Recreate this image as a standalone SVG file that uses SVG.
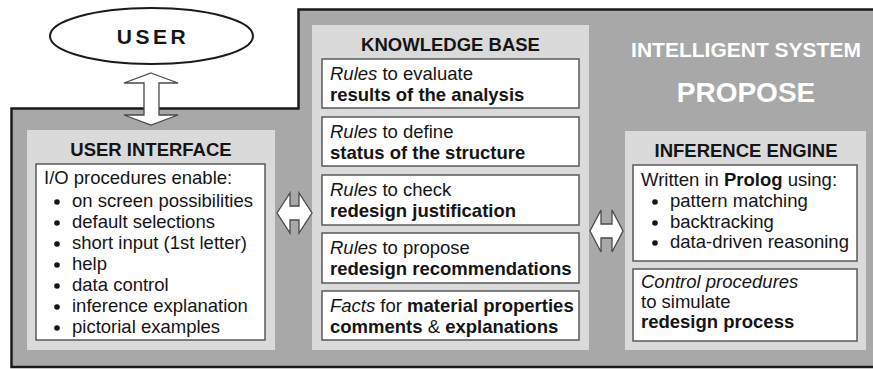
<svg xmlns="http://www.w3.org/2000/svg" width="873" height="369" viewBox="0 0 873 369">
  <style>
    text { font-family: "Liberation Sans", Arial, sans-serif; fill: #151515; }
    .t { font-size: 18.5px; }
    .b { font-weight: bold; }
    .i { font-style: italic; }
    .title { font-size: 18.5px; font-weight: bold; text-anchor: middle; }
    .panel { fill: #dadada; }
    .box { fill: #ffffff; stroke: #5a5a5a; stroke-width: 1.5; }
    .arrow { fill: #ffffff; stroke: #4a4a4a; stroke-width: 1.3; stroke-linejoin: miter; }
    .dot { fill: #151515; }
  </style>

  <rect width="873" height="369" fill="#ffffff"/>

  <!-- system outline -->
  <g id="system">
    <path d="M11.5 367 L11.5 108.5 L298.5 108.5 L298.5 9.5 L880 9.5 L880 367 Z" fill="#a8a8a8" stroke="#1a1a1a" stroke-width="2.5"/>
    <text x="746" y="57" text-anchor="middle" font-size="21" font-weight="bold" style="fill:#ffffff">INTELLIGENT SYSTEM</text>
    <text x="746" y="102" text-anchor="middle" font-size="28" font-weight="bold" style="fill:#ffffff">PROPOSE</text>
  </g>

  <!-- user -->
  <g id="user">
    <ellipse cx="151.5" cy="36" rx="101.5" ry="28" fill="#ffffff" stroke="#1a1a1a" stroke-width="2"/>
    <text x="153" y="43.5" text-anchor="middle" font-size="21" font-weight="bold" letter-spacing="3.5">USER</text>
  </g>

  <!-- user interface -->
  <g id="user-interface">
    <rect class="panel" x="27" y="130" width="248" height="220"/>
    <text class="title" x="151" y="156">USER INTERFACE</text>
    <rect class="box" x="36" y="164" width="229" height="176"/>
    <text class="t" x="44" y="184">I/O procedures enable:</text>
    <g class="dot">
      <circle cx="57" cy="202" r="2.8"/>
      <circle cx="57" cy="223" r="2.8"/>
      <circle cx="57" cy="244" r="2.8"/>
      <circle cx="57" cy="265" r="2.8"/>
      <circle cx="57" cy="286" r="2.8"/>
      <circle cx="57" cy="307" r="2.8"/>
      <circle cx="57" cy="328" r="2.8"/>
    </g>
    <text class="t" x="72" y="207">on screen possibilities</text>
    <text class="t" x="72" y="228">default selections</text>
    <text class="t" x="72" y="249">short input (1st letter)</text>
    <text class="t" x="72" y="270">help</text>
    <text class="t" x="72" y="291">data control</text>
    <text class="t" x="72" y="312">inference explanation</text>
    <text class="t" x="72" y="333">pictorial examples</text>
  </g>

  <!-- knowledge base -->
  <g id="knowledge-base">
    <rect class="panel" x="312" y="25" width="277" height="325"/>
    <text class="title" x="450.5" y="51">KNOWLEDGE BASE</text>
    <rect class="box" x="322" y="59" width="257" height="49"/>
    <text class="t" x="330" y="80"><tspan class="i">Rules</tspan> to evaluate</text>
    <text class="t b" x="330" y="101">results of the analysis</text>
    <rect class="box" x="322" y="117" width="257" height="49"/>
    <text class="t" x="330" y="138"><tspan class="i">Rules</tspan> to define</text>
    <text class="t b" x="330" y="159">status of the structure</text>
    <rect class="box" x="322" y="175" width="257" height="50"/>
    <text class="t" x="330" y="196"><tspan class="i">Rules</tspan> to check</text>
    <text class="t b" x="330" y="217">redesign justification</text>
    <rect class="box" x="322" y="233" width="257" height="50"/>
    <text class="t" x="330" y="254"><tspan class="i">Rules</tspan> to propose</text>
    <text class="t b" x="330" y="275">redesign recommendations</text>
    <rect class="box" x="322" y="291" width="257" height="49"/>
    <text class="t" x="330" y="312"><tspan class="i">Facts</tspan> for <tspan class="b">material properties</tspan></text>
    <text class="t" x="330" y="333"><tspan class="b">comments</tspan> &amp; <tspan class="b">explanations</tspan></text>
  </g>

  <!-- inference engine -->
  <g id="inference-engine">
    <rect class="panel" x="625" y="131" width="241" height="219"/>
    <text class="title" x="746" y="157">INFERENCE ENGINE</text>
    <rect class="box" x="633" y="165" width="224" height="96"/>
    <text class="t" x="641" y="186">Written in <tspan class="b">Prolog</tspan> using:</text>
    <g class="dot">
      <circle cx="655" cy="202" r="2.8"/>
      <circle cx="655" cy="223" r="2.8"/>
      <circle cx="655" cy="243" r="2.8"/>
    </g>
    <text class="t" x="670" y="207">pattern matching</text>
    <text class="t" x="670" y="228">backtracking</text>
    <text class="t" x="670" y="248">data-driven reasoning</text>
    <rect class="box" x="633" y="269" width="224" height="72"/>
    <text class="t i" x="641" y="288">Control procedures</text>
    <text class="t" x="641" y="308">to simulate</text>
    <text class="t b" x="641" y="328">redesign process</text>
  </g>

  <!-- double-headed connectors -->
  <g id="connectors">
    <path class="arrow" d="M151 73 L178 83 L159 83 L159 115 L178 115 L151 125 L124 115 L144 115 L144 83 L124 83 Z"/>
    <path class="arrow" d="M277 213 L290 193 L290 206 L299 206 L299 193 L312 213 L299 233 L299 220 L290 220 L290 233 Z"/>
    <path class="arrow" d="M590 231 L601 210 L601 224 L612 224 L612 210 L623 231 L612 252 L612 238 L601 238 L601 252 Z"/>
  </g>
</svg>
